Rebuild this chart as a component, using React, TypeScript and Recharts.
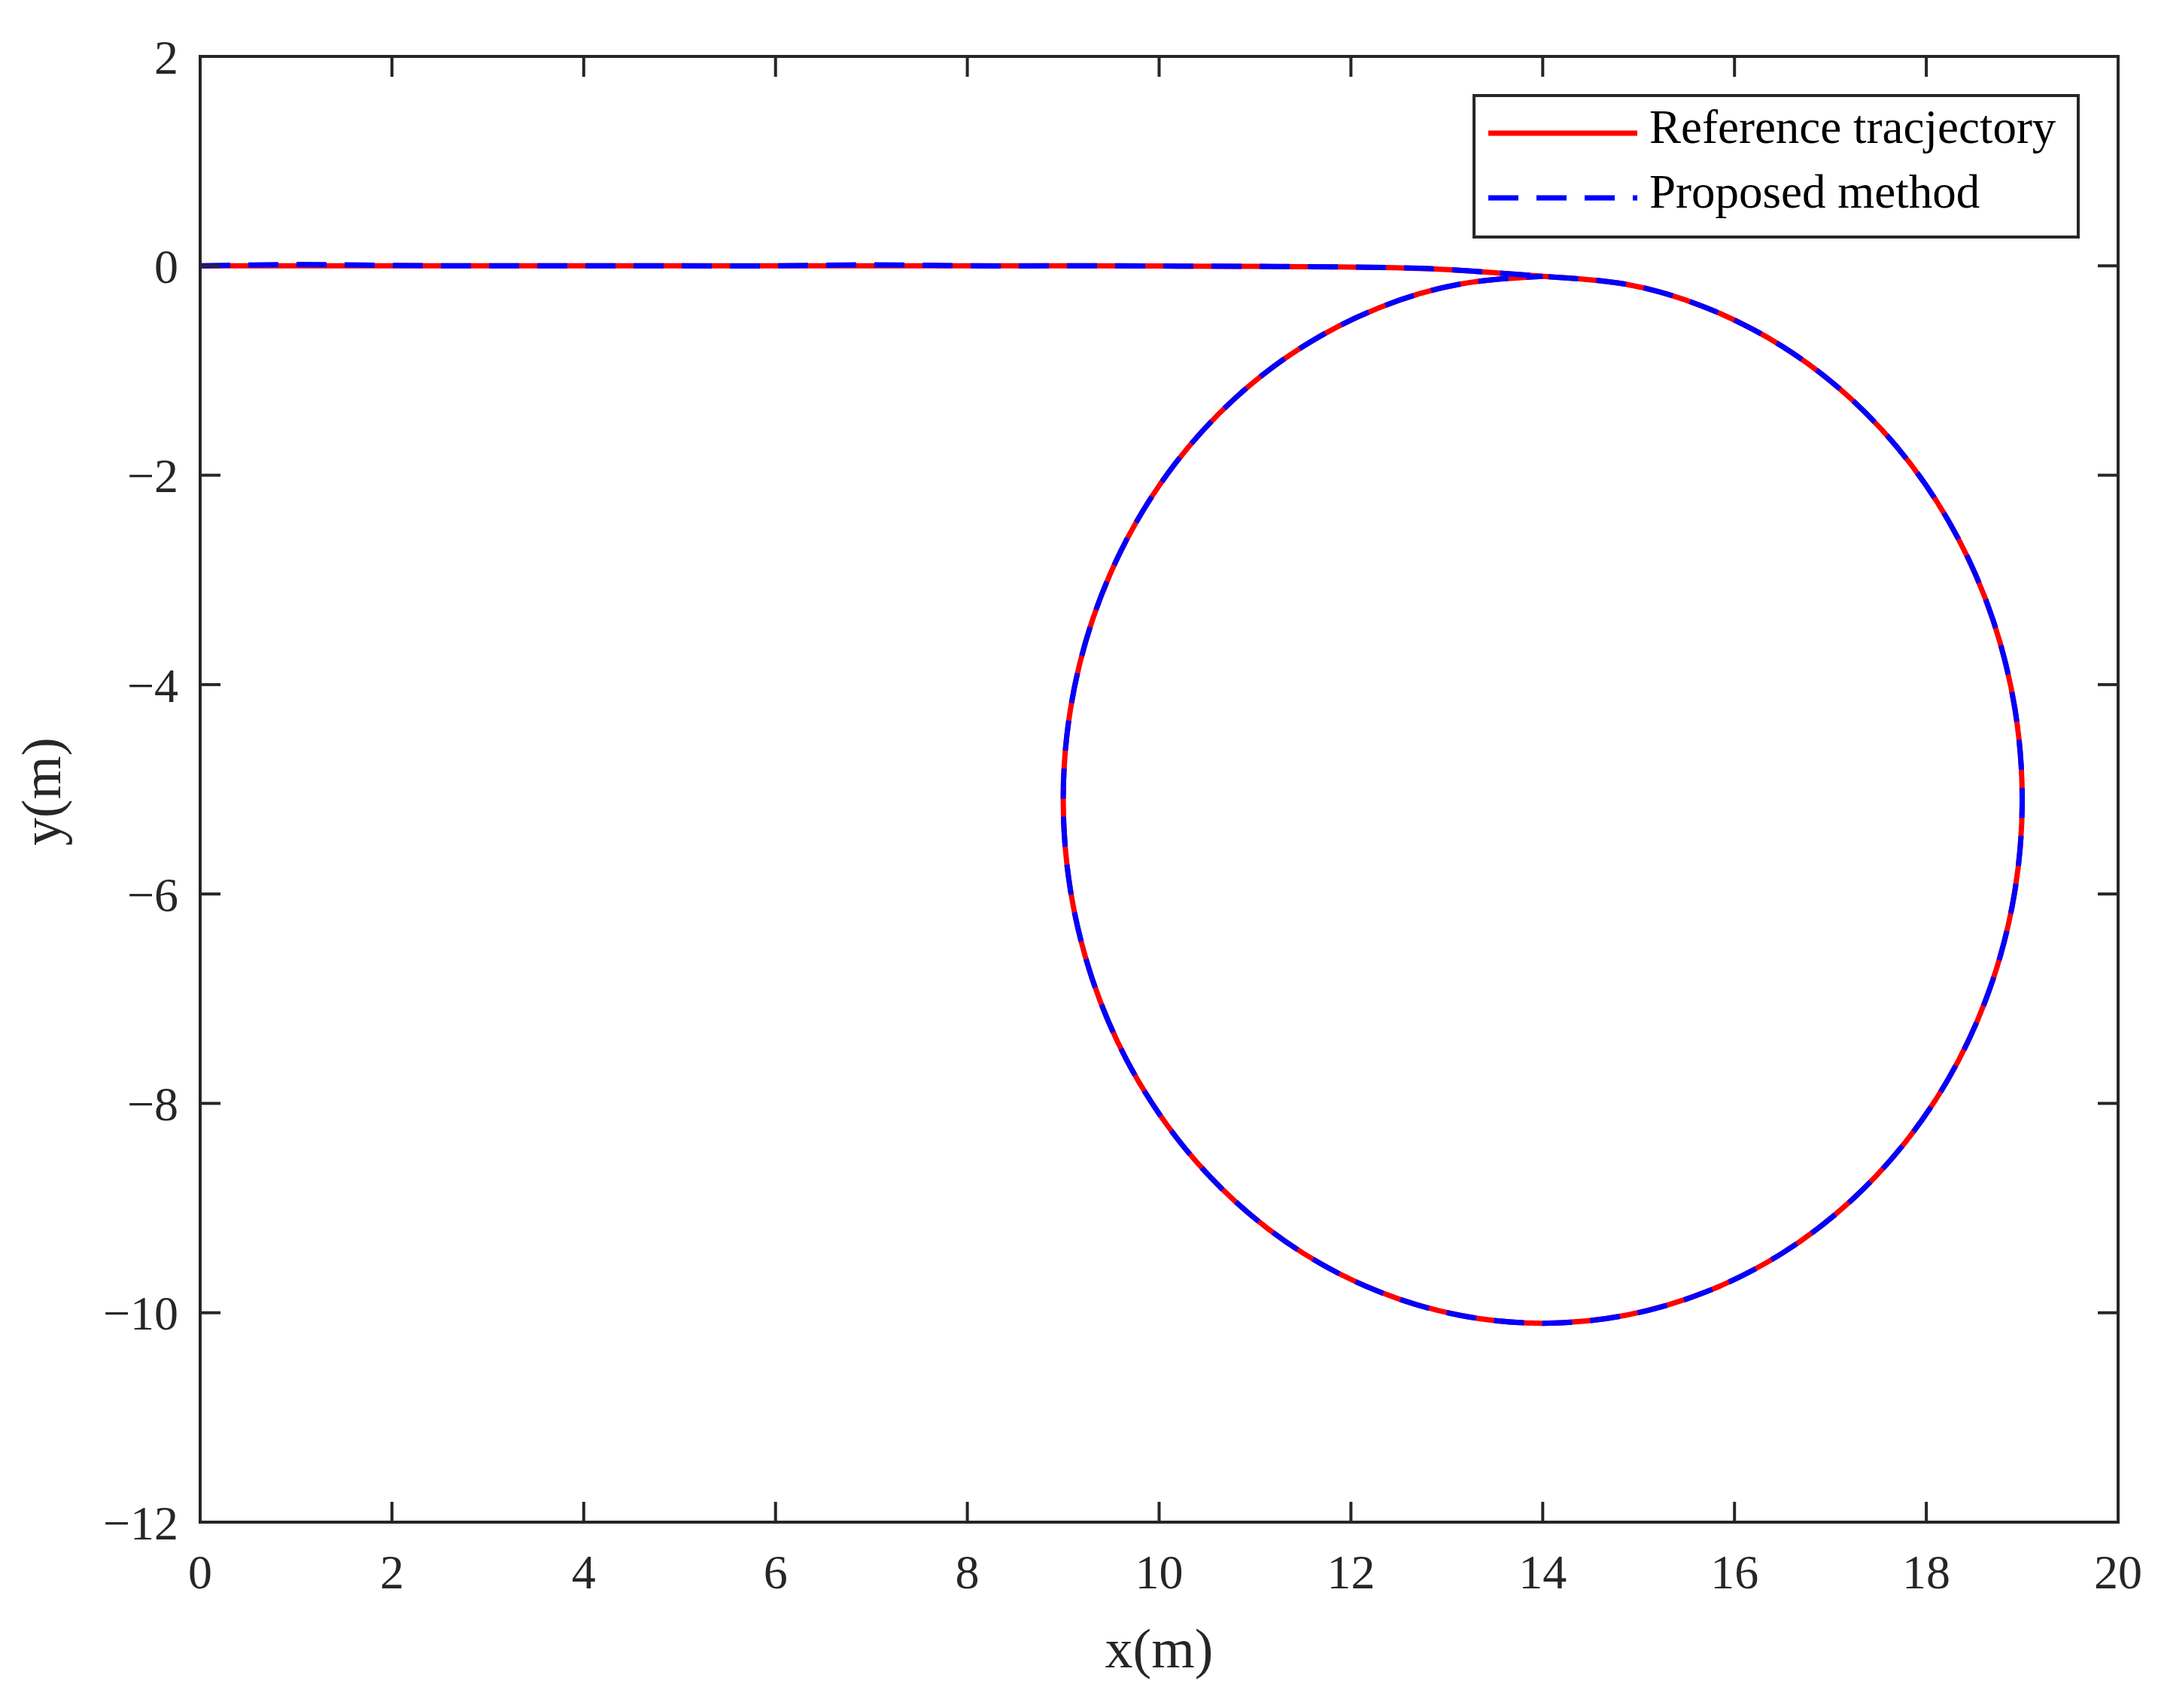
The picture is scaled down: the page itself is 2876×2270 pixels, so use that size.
import { LineChart, Line, XAxis, YAxis, Legend } from "recharts";

// trajectory: straight run along y=0, then one loop
// around the circle (centre ~(14,-5.1), r ~5), clockwise from the top
const pathX = [
  0, 1, 2, 3, 4, 5, 6, 7, 8, 9, 10, 11, 12, 13,
  14, 14.868, 15.71, 16.5, 17.214, 17.83, 18.33, 18.698, 18.924, 19,
  18.924, 18.698, 18.33, 17.83, 17.214, 16.5, 15.71, 14.868, 14,
  13.132, 12.29, 11.5, 10.786, 10.17, 9.67, 9.302, 9.076, 9,
  9.076, 9.302, 9.67, 10.17, 10.786, 11.5, 12.29, 13.132, 14,
];
const refY = [
  0, 0, 0, 0, 0, 0, 0, 0, 0, 0, -0.002, -0.005, -0.012, -0.035,
  -0.1, -0.176, -0.402, -0.77, -1.27, -1.886, -2.6, -3.39, -4.232, -5.1,
  -5.968, -6.81, -7.6, -8.314, -8.93, -9.43, -9.798, -10.024, -10.1,
  -10.024, -9.798, -9.43, -8.93, -8.314, -7.6, -6.81, -5.968, -5.1,
  -4.232, -3.39, -2.6, -1.886, -1.27, -0.77, -0.402, -0.176, -0.1,
];
const propY = [
  0, 0.012, 0.004, 0, 0, 0, 0, 0.01, 0, 0, -0.002, -0.005, -0.012, -0.035,
  -0.1, -0.176, -0.402, -0.77, -1.27, -1.886, -2.6, -3.39, -4.232, -5.1,
  -5.968, -6.81, -7.6, -8.314, -8.93, -9.43, -9.798, -10.024, -10.1,
  -10.024, -9.798, -9.43, -8.93, -8.314, -7.6, -6.81, -5.968, -5.1,
  -4.232, -3.39, -2.6, -1.886, -1.27, -0.77, -0.402, -0.176, -0.1,
];
const xTicks = [0, 2, 4, 6, 8, 10, 12, 14, 16, 18, 20];
const yTicks = [-12, -10, -8, -6, -4, -2, 0, 2];
const seriesNames = ["Reference tracjectory", "Proposed method"];

const refData = pathX.map((x, i) => ({ x, y: refY[i] }));
const propData = pathX.map((x, i) => ({ x, y: propY[i] }));

const INK = "#262626";
const FONT = "'Liberation Serif', 'Times New Roman', serif";
const DASH = "40 24";
const RED = "#ff0000";
const BLUE = "#0000ff";
const axisLine = { stroke: INK, strokeWidth: 4, strokeLinecap: "square" as const };
const tickLine = { stroke: INK, strokeWidth: 4 };
const tickStyle = { fill: INK, fontSize: 64, fontFamily: FONT };

const fmtY = (v: number) => (v < 0 ? "\u2212" + Math.abs(v) : String(v));

const legendItems = [
  { name: seriesNames[0], color: RED, dash: undefined as string | undefined },
  { name: seriesNames[1], color: BLUE, dash: DASH },
];

function LegendBox() {
  return (
    <svg width={807} height={192} style={{ display: "block" }}>
      <rect x={2} y={2} width={803} height={188} fill="#fff" stroke={INK} strokeWidth={4} />
      {legendItems.map((e, i) => {
        const ly = 52 + i * 86;
        return (
          <g key={i}>
            <line x1={21} x2={219} y1={ly} y2={ly} stroke={e.color} strokeWidth={7} strokeDasharray={e.dash} />
            <text x={235} y={ly + 13} fontSize={63} fontFamily={FONT} fill="#000">
              {e.name}
            </text>
          </g>
        );
      })}
    </svg>
  );
}

function YTitle(props: any) {
  const vb = props.viewBox || { x: 0, y: 0, width: 0, height: 0 };
  const cx = 80;
  const cy = vb.y + vb.height / 2 + 3;
  return (
    <text
      x={cx}
      y={cy}
      transform={`rotate(-90 ${cx} ${cy})`}
      textAnchor="middle"
      fontSize={74}
      fontFamily={FONT}
      fill={INK}
    >
      y(m)
    </text>
  );
}

const NoLabel = () => <g />;

export default function App() {
  return (
    <div style={{ position: "absolute", left: 0, top: 0, width: 2876, height: 2270, background: "#fff" }}>
      <LineChart width={2876} height={2270} margin={{ top: 74, right: 60, bottom: 127, left: 66 }}>
        <XAxis
          type="number"
          dataKey="x"
          domain={[0, 20]}
          ticks={xTicks}
          interval={0}
          height={120}
          axisLine={axisLine}
          tickLine={tickLine}
          tickSize={-27}
          tickMargin={70}
          tick={tickStyle}
          label={{ value: "x(m)", position: "bottom", offset: 20, fontSize: 74, fontFamily: FONT, fill: INK }}
        />
        <XAxis
          xAxisId="top"
          orientation="top"
          type="number"
          dataKey="x"
          domain={[0, 20]}
          allowDataOverflow
          ticks={xTicks}
          interval={0}
          height={1}
          axisLine={axisLine}
          tickLine={tickLine}
          tickSize={-27}
          tick={NoLabel}
        />
        <YAxis
          type="number"
          domain={[-12, 2]}
          ticks={yTicks}
          interval={0}
          width={200}
          axisLine={axisLine}
          tickLine={tickLine}
          tickSize={-27}
          tickMargin={56}
          tick={tickStyle}
          tickFormatter={fmtY}
          label={{ content: YTitle }}
        />
        <YAxis
          yAxisId="right"
          orientation="right"
          type="number"
          domain={[-12, 2]}
          allowDataOverflow
          ticks={yTicks}
          interval={0}
          width={1}
          axisLine={axisLine}
          tickLine={tickLine}
          tickSize={-27}
          tick={NoLabel}
        />
        <Legend
          layout="vertical"
          align="center"
          verticalAlign="middle"
          wrapperStyle={{ left: 1957, top: 125, width: 807, height: 192 }}
          content={<LegendBox />}
        />
        {/* invisible copy bound to the top/right axes so their ticks get a scale */}
        <Line
          data={refData}
          dataKey="y"
          xAxisId="top"
          yAxisId="right"
          type="natural"
          stroke="none"
          strokeWidth={0}
          dot={false}
          activeDot={false}
          legendType="none"
          isAnimationActive={false}
        />
        <Line
          data={refData}
          dataKey="y"
          name={seriesNames[0]}
          type="natural"
          stroke={RED}
          strokeWidth={7}
          dot={false}
          activeDot={false}
          isAnimationActive={false}
        />
        <Line
          data={propData}
          dataKey="y"
          name={seriesNames[1]}
          type="natural"
          stroke={BLUE}
          strokeWidth={7}
          strokeDasharray={DASH}
          dot={false}
          activeDot={false}
          isAnimationActive={false}
        />
      </LineChart>
    </div>
  );
}
